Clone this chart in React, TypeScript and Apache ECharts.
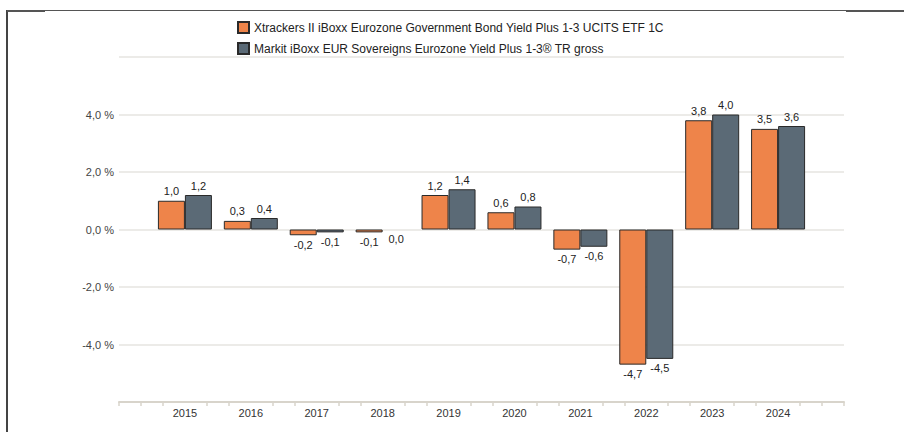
import React, { useEffect, useRef } from "react";
import * as echarts from "echarts";

const years = ["2015", "2016", "2017", "2018", "2019", "2020", "2021", "2022", "2023", "2024"];
const etfValues = [1.0, 0.3, -0.2, -0.1, 1.2, 0.6, -0.7, -4.7, 3.8, 3.5];
const indexValues = [1.2, 0.4, -0.1, 0.0, 1.4, 0.8, -0.6, -4.5, 4.0, 3.6];
const seriesNames = [
  "Xtrackers II iBoxx Eurozone Government Bond Yield Plus 1-3 UCITS ETF 1C",
  "Markit iBoxx EUR Sovereigns Eurozone Yield Plus 1-3® TR gross",
];
const colors = ["#EE844A", "#5B6A76"];

const FONT = "'Liberation Sans', Arial, Helvetica, sans-serif";
const fmt = (v: number) => v.toFixed(1).replace(".", ",");

export default function App() {
  const ref = useRef<HTMLDivElement>(null);
  useEffect(() => {
    if (!ref.current) return;
    const chart = echarts.init(ref.current, undefined, { renderer: "svg" });
    const categories = ["", ...years, ""];
    const tickSlots = Array.from({ length: 34 }, (_, i) => String(i));
    const makeData = (vals: number[]) =>
      vals.map((v, i) => ({
        value: [years[i], v],
        label: { position: v > 0 ? "top" : "bottom" },
        itemStyle: v === 0 ? { borderWidth: 0 } : undefined,
      }));
    const axisColor = "#d8d4cb";
    chart.setOption({
      animation: false,
      backgroundColor: "#ffffff",
      textStyle: { fontFamily: FONT },
      legend: {
        orient: "vertical",
        left: 232,
        top: 16,
        itemWidth: 11,
        itemHeight: 11,
        itemGap: 8,
        icon: "rect",
        textStyle: { fontFamily: FONT, fontSize: 12, color: "#222" },
        data: seriesNames,
      },
      grid: { left: 119, right: 60, top: 57, bottom: 30, containLabel: false },
      xAxis: [
        {
          type: "category",
          data: categories,
          boundaryGap: false,
          axisLine: { show: false },
          axisTick: { show: false },
          axisLabel: { color: "#333", fontSize: 11, fontFamily: FONT, margin: 5 },
          splitLine: { show: false },
        },
        {
          type: "category",
          data: tickSlots,
          boundaryGap: false,
          position: "bottom",
          axisLine: { show: true, lineStyle: { color: axisColor, width: 2 } },
          axisTick: {
            show: true,
            length: 4,
            interval: (i: number) => i % 3 !== 0 || i === 0 || i === 33,
            lineStyle: { color: axisColor, width: 1.5 },
          },
          axisLabel: { show: false },
          splitLine: { show: false },
        },
      ],
      yAxis: {
        type: "value",
        min: -6,
        max: 6,
        interval: 2,
        axisLine: { show: false },
        axisTick: { show: false },
        axisLabel: {
          color: "#444",
          fontSize: 11,
          fontFamily: FONT,
          margin: 5,
          formatter: (v: number) => (Math.abs(v) > 5 ? "" : fmt(v) + " %"),
        },
        splitLine: { show: true, lineStyle: { color: "#e6e5e0", width: 1.5 } },
      },
      series: [etfValues, indexValues].map((vals, k) => ({
        type: "bar",
        name: seriesNames[k],
        xAxisIndex: 0,
        data: makeData(vals),
        barWidth: 27,
        barGap: "0%",
        itemStyle: { color: colors[k], borderColor: "#2a2a2a", borderWidth: 1 },
        label: {
          show: true,
          distance: 4,
          color: "#222",
          fontSize: 11,
          fontFamily: FONT,
          formatter: (p: any) => fmt(p.value[1]),
        },
      })),
      graphic: [
        { type: "line", shape: { x1: 7, y1: 10, x2: 7, y2: 432 }, style: { stroke: "#444", lineWidth: 2 } },
        { type: "line", shape: { x1: 7, y1: 10.5, x2: 904, y2: 10.5 }, style: { stroke: "#555", lineWidth: 1 } },
        { type: "line", shape: { x1: 7, y1: 11, x2: 45, y2: 11 }, style: { stroke: "#555", lineWidth: 2 } },
        { type: "line", shape: { x1: 846, y1: 11, x2: 904, y2: 11 }, style: { stroke: "#555", lineWidth: 2 } },
      ],
    });
    return () => chart.dispose();
  }, []);
  return (
    <div
      ref={ref}
      style={{ position: "fixed", left: 0, top: 0, width: 904, height: 432 }}
    />
  );
}
